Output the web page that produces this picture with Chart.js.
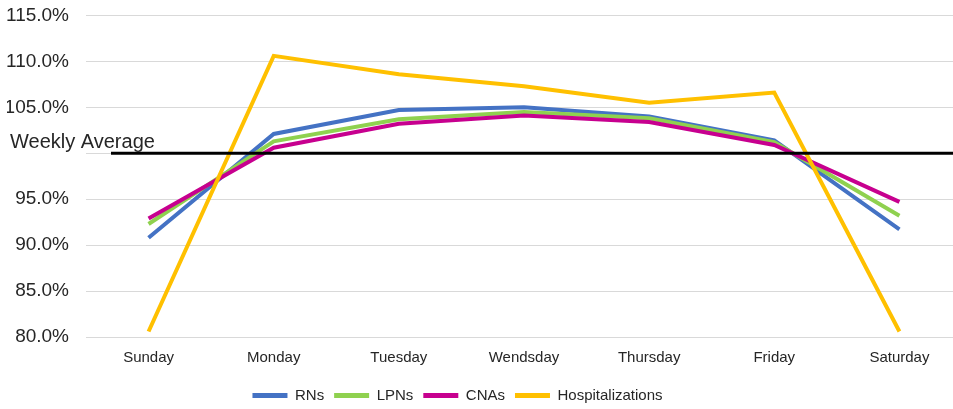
<!DOCTYPE html>
<html>
<head>
<meta charset="utf-8">
<script src="https://cdn.jsdelivr.net/npm/chart.js@4.4.0/dist/chart.umd.min.js"></script>
<style>
  html, body { margin: 0; padding: 0; background: #fff; overflow: hidden; }
  #wrap { width: 962px; height: 422px; margin-top: -13px; }
</style>
</head>
<body>
<div id="wrap"><canvas id="myChart"></canvas></div>
<script>
const days = ["Sunday", "Monday", "Tuesday", "Wendsday", "Thursday", "Friday", "Saturday"];
const rns = [90.8, 102.1, 104.7, 105.0, 104.0, 101.4, 91.7];
const lpns = [92.3, 101.3, 103.7, 104.5, 103.8, 101.2, 93.2];
const cnas = [92.9, 100.6, 103.2, 104.1, 103.4, 100.9, 94.7];
const hosp = [80.6, 110.6, 108.6, 107.3, 105.5, 106.6, 80.6];
const yTicks = [80, 85, 90, 95, 100, 105, 110, 115];
const averageLevel = 100;

// black "Weekly Average" line + its label
const averageLine = {
  id: "averageLine",
  afterDatasetsDraw(chart) {
    const ctx = chart.ctx;
    const y = chart.scales.y.getPixelForValue(averageLevel);
    ctx.save();
    ctx.strokeStyle = "#000";
    ctx.lineWidth = 3;
    ctx.beginPath();
    ctx.moveTo(111, y);
    ctx.lineTo(chart.width, y);
    ctx.stroke();
    ctx.fillStyle = "#262626";
    ctx.font = "20px 'Liberation Sans', Arial, sans-serif";
    ctx.textBaseline = "bottom";
    ctx.fillText("Weekly Average", 10, y - 1);
    ctx.restore();
  }
};

// nudge the legend a bit left / down like the original
const legendShift = {
  id: "legendShift",
  afterLayout(chart) {
    const lg = chart.legend;
    lg.left -= 27; lg.right -= 27;
    lg.top += 7; lg.bottom += 7;
  }
};

function series(label, data, color, order) {
  return {
    label: label,
    data: data,
    borderColor: color,
    backgroundColor: color,
    borderWidth: 4,
    pointRadius: 0,
    tension: 0,
    order: order
  };
}

new Chart(document.getElementById("myChart"), {
  type: "line",
  data: {
    labels: days,
    datasets: [
      series("RNs", rns, "#4472C4", 3),
      series("LPNs", lpns, "#8FD14F", 2),
      series("CNAs", cnas, "#C7008F", 1),
      series("Hospitalizations", hosp, "#FFC000", 0)
    ]
  },
  options: {
    responsive: true,
    maintainAspectRatio: false,
    animation: false,
    layout: { padding: { top: 0, left: 7, right: 0, bottom: 3 } },
    scales: {
      x: {
        offset: true,
        grid: { display: false },
        border: { display: false },
        ticks: {
          color: "#262626",
          font: { family: "'Liberation Sans', Arial, sans-serif", size: 15 },
          padding: 4
        }
      },
      y: {
        min: 80,
        max: 115,
        afterBuildTicks(axis) {
          axis.ticks = yTicks.map(v => ({ value: v }));
        },
        afterFit(axis) { axis.width = 79; },
        grid: { color: "#d9d9d9", lineWidth: 1, drawTicks: false },
        border: { display: false },
        ticks: {
          color: "#262626",
          font: { family: "'Liberation Sans', Arial, sans-serif", size: 19 },
          padding: 17,
          callback: v => (v === averageLevel ? "" : v.toFixed(1) + "%")
        }
      }
    },
    plugins: {
      legend: {
        position: "bottom",
        labels: {
          boxWidth: 35,
          boxHeight: 5,
          padding: 10,
          color: "#262626",
          font: { family: "'Liberation Sans', Arial, sans-serif", size: 15 },
          sort: (a, b) => a.datasetIndex - b.datasetIndex,
          generateLabels(chart) {
            return Chart.defaults.plugins.legend.labels.generateLabels(chart)
              .map(item => Object.assign(item, { lineWidth: 0 }));
          }
        }
      },
      tooltip: { enabled: false }
    }
  },
  plugins: [averageLine, legendShift]
});
</script>
</body>
</html>
